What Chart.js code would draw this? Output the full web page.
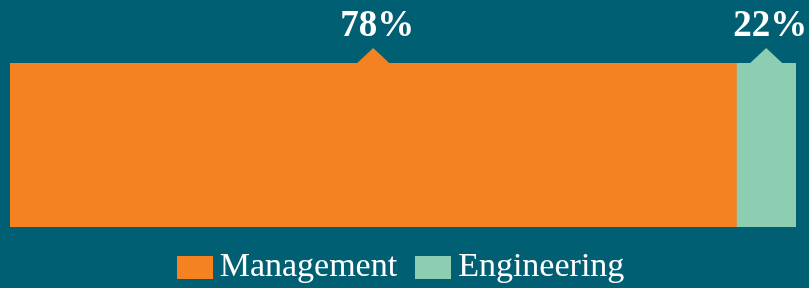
<!DOCTYPE html>
<html>
<head>
<meta charset="utf-8">
<script src="https://cdn.jsdelivr.net/npm/chart.js@4"></script>
<style>
  html, body { margin: 0; padding: 0; background: #005f73; }
  #wrap { position: relative; width: 809px; height: 288px; }
  #legend {
    position: absolute; left: 0; right: 0; top: 246px;
    display: flex; justify-content: center; align-items: center;
    font-family: "Liberation Serif", serif; font-size: 34px; color: #ffffff;
    padding-right: 8px;
  }
  .item { display: flex; align-items: center; margin: 0 9px; }
  .swatch { width: 36px; height: 23px; margin-right: 7px; margin-top: 4px; }
</style>
</head>
<body>
<div id="wrap">
  <canvas id="shareChart" width="809" height="288"></canvas>
  <div id="legend"></div>
</div>
<script>
const categories = ["Share"];
const seriesNames = ["Management", "Engineering"];
const seriesValues = [78, 22];
const seriesColors = ["#f58220", "#8dcdb1"];

// draws the little pointer + percentage over each segment
const pointerLabels = {
  id: "pointerLabels",
  afterDatasetsDraw(chart) {
    const ctx = chart.ctx;
    chart.data.datasets.forEach((ds, i) => {
      const bar = chart.getDatasetMeta(i).data[0];
      if (!bar) return;
      const right = Math.min(bar.x, chart.chartArea.right);
      const cx = (bar.base + right) / 2;
      const top = bar.y - bar.height / 2;
      ctx.save();
      ctx.fillStyle = ds.backgroundColor;
      ctx.beginPath();
      ctx.moveTo(cx - 16, top);
      ctx.lineTo(cx, top - 15);
      ctx.lineTo(cx + 16, top);
      ctx.closePath();
      ctx.fill();
      ctx.fillStyle = "#ffffff";
      ctx.font = "bold 37px 'Liberation Serif', serif";
      ctx.textAlign = "center";
      ctx.textBaseline = "alphabetic";
      ctx.fillText(ds.data[0] + "%", cx + 4, top - 27);
      ctx.restore();
    });
  }
};

const chart = new Chart(document.getElementById("shareChart"), {
  type: "bar",
  data: {
    labels: categories,
    datasets: seriesNames.map((name, i) => ({
      label: name,
      data: [seriesValues[i]],
      backgroundColor: seriesColors[i],
      borderWidth: 0,
      barPercentage: 1,
      categoryPercentage: 1
    }))
  },
  options: {
    indexAxis: "y",
    responsive: false,
    animation: false,
    layout: { padding: { top: 63, left: 10, right: 13, bottom: 61 } },
    scales: {
      x: { stacked: true, display: false, min: 0, max: 84.4 },
      y: { stacked: true, display: false }
    },
    plugins: {
      tooltip: { enabled: false },
      legend: { display: false }
    }
  },
  plugins: [pointerLabels]
});

const legendEl = document.getElementById("legend");
chart.data.datasets.forEach((ds) => {
  const item = document.createElement("div");
  item.className = "item";
  const sw = document.createElement("span");
  sw.className = "swatch";
  sw.style.background = ds.backgroundColor;
  const txt = document.createElement("span");
  txt.textContent = ds.label;
  item.appendChild(sw);
  item.appendChild(txt);
  legendEl.appendChild(item);
});
</script>
</body>
</html>
